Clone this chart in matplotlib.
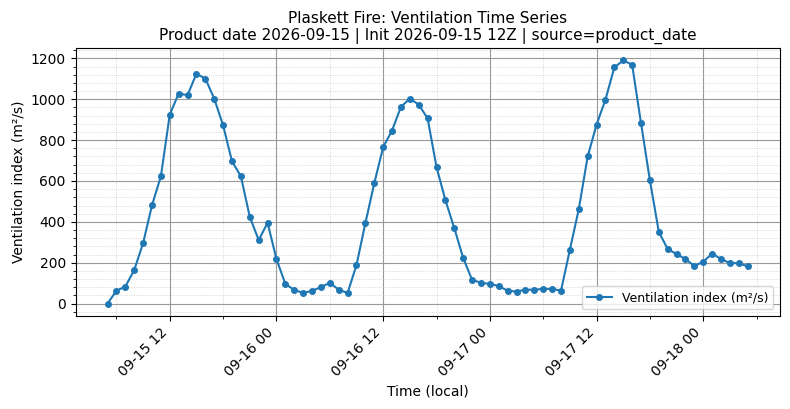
import matplotlib
matplotlib.use("Agg")
import matplotlib.pyplot as plt
import matplotlib.dates as mdates
from matplotlib.ticker import AutoMinorLocator
import pandas as pd

start_time = "2026-09-15 05:00"
ventilation = [
    0, 63, 83, 164, 296, 481, 623, 925, 1028, 1020, 1125, 1101, 1003, 872, 696, 623,
    424, 311, 395, 218, 96, 67, 52, 63, 80, 102, 68, 52, 189, 394, 589, 766,
    847, 963, 1003, 974, 906, 668, 506, 369, 223, 116, 102, 96, 86, 63, 59, 68,
    68, 72, 72, 63, 264, 462, 720, 876, 998, 1156, 1190, 1169, 883, 603, 351, 267,
    242, 218, 184, 205, 245, 218, 198, 198, 182,
]
times = pd.date_range(start_time, periods=len(ventilation), freq="h")

title = ("Plaskett Fire: Ventilation Time Series\n"
         "Product date 2026-09-15 | Init 2026-09-15 12Z | source=product_date")
series_label = "Ventilation index (m²/s)"

fig, ax = plt.subplots(figsize=(7.9, 4.09), dpi=100)
ax.plot(times, ventilation, marker="o", markersize=4, linewidth=1.5,
        color="#1f77b4", label=series_label)

ax.set_title(title, fontsize=11)
ax.set_xlabel("Time (local)")
ax.set_ylabel("Ventilation index (m²/s)")

ax.xaxis.set_major_locator(mdates.HourLocator(byhour=[0, 12]))
ax.xaxis.set_minor_locator(mdates.HourLocator(byhour=[6, 18]))
ax.xaxis.set_major_formatter(mdates.DateFormatter("%m-%d %H"))
ax.yaxis.set_minor_locator(AutoMinorLocator(5))

ax.grid(which="major", color="#999999", linewidth=0.8)
ax.grid(which="minor", color="#cccccc", linestyle=":", linewidth=0.6)

plt.setp(ax.get_xticklabels(), rotation=45, ha="right")
ax.legend(loc="lower right", fontsize=9)

fig.subplots_adjust(left=0.0956, right=0.987, top=0.882, bottom=0.228)
fig.savefig("out.png", dpi=100)
